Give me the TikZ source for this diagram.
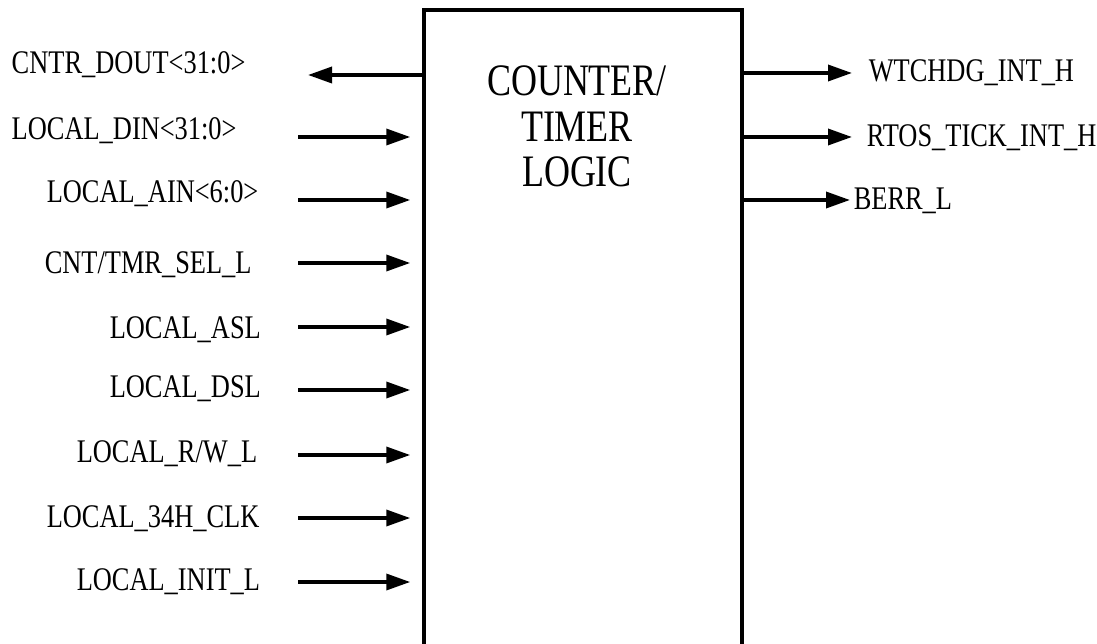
\documentclass[tikz,border=0pt]{standalone}
\usepackage{fontspec}
\setmainfont{Liberation Serif}[FakeStretch=0.8]
\usetikzlibrary{arrows.meta,positioning}
\tikzset{
  % Base styles
  diagram base/.style={
    x=1pt, y=-1pt,
    line width=3.5pt,
  },
  % Counter/timer block
  logic block/.style={rectangle, draw, line width=3.5pt, minimum width=318pt, minimum height=700pt, inner sep=0pt},
  block title/.style={align=center, inner sep=0pt, font=\fontsize{45}{45.5}\selectfont},
  % Signal names and arrows
  signal label/.style={anchor=base west, inner sep=0pt, font=\fontsize{33}{33}\selectfont},
  sig arrow/.style={-{Triangle[length=24pt,width=16pt]}, line width=3.5pt},
}

\begin{document}
\begin{tikzpicture}[diagram base]
\useasboundingbox (0,0) rectangle (1097,644);
\clip (0,0) rectangle (1097,644);

% Block (runs off the bottom of the page)
\node[logic block] (ctl) at (583,360) {};
\node[block title, below=56pt of ctl.north, xshift=-6pt] (ttl) {COUNTER/\\TIMER\\LOGIC};

% Signal names, left side
\node[signal label] (cntr) at (10,74) {CNTR\_DOUT<31:0>};
\node[signal label] (din) at (10,140) {LOCAL\_DIN<31:0>};
\node[signal label] (ain) at (45,203) {LOCAL\_AIN<6:0>};
\node[signal label] (sel) at (43,273) {CNT/TMR\_SEL\_L};
\node[signal label] (asl) at (108,338) {LOCAL\_ASL};
\node[signal label] (dsl) at (108,397) {LOCAL\_DSL};
\node[signal label] (rw) at (75,462) {LOCAL\_R/W\_L};
\node[signal label] (clk) at (45,527) {LOCAL\_34H\_CLK};
\node[signal label] (init) at (75,590) {LOCAL\_INIT\_L};

% Signal names, right side
\node[signal label] (wdg) at (867,82) {WTCHDG\_INT\_H};
\node[signal label] (rtos) at (865,147) {RTOS\_TICK\_INT\_H};
\node[signal label] (berr) at (852,210) {BERR\_L};

% Free arrow ends
\coordinate (cntr-end) at (308,75);
\coordinate (din-src) at (298,137);
\coordinate (ain-src) at (298,200);
\coordinate (sel-src) at (298,263);
\coordinate (asl-src) at (298,327);
\coordinate (dsl-src) at (298,390);
\coordinate (rw-src) at (298,455);
\coordinate (clk-src) at (298,518);
\coordinate (init-src) at (298,582);
\coordinate (wdg-end) at (852,73);
\coordinate (rtos-end) at (852,137);
\coordinate (berr-end) at (850,200);

% Output on the left
\draw[sig arrow] (ctl.west |- cntr-end) -- (cntr-end);

% Inputs
\draw[sig arrow, shorten >=12pt] (din-src) -- (ctl.west |- din-src);
\draw[sig arrow, shorten >=12pt] (ain-src) -- (ctl.west |- ain-src);
\draw[sig arrow, shorten >=12pt] (sel-src) -- (ctl.west |- sel-src);
\draw[sig arrow, shorten >=12pt] (asl-src) -- (ctl.west |- asl-src);
\draw[sig arrow, shorten >=12pt] (dsl-src) -- (ctl.west |- dsl-src);
\draw[sig arrow, shorten >=12pt] (rw-src) -- (ctl.west |- rw-src);
\draw[sig arrow, shorten >=12pt] (clk-src) -- (ctl.west |- clk-src);
\draw[sig arrow, shorten >=12pt] (init-src) -- (ctl.west |- init-src);

% Outputs on the right
\draw[sig arrow] (ctl.east |- wdg-end) -- (wdg-end);
\draw[sig arrow] (ctl.east |- rtos-end) -- (rtos-end);
\draw[sig arrow] (ctl.east |- berr-end) -- (berr-end);
\end{tikzpicture}
\end{document}
